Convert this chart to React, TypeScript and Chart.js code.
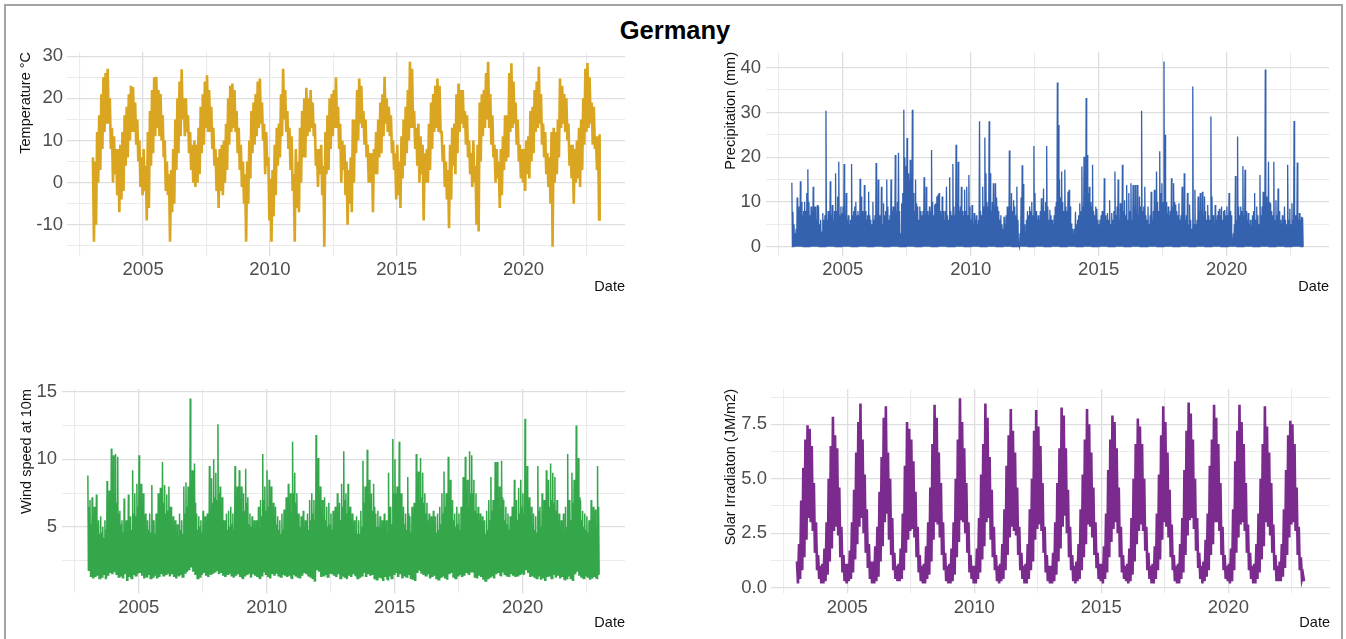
import React, { useEffect, useRef } from "react";
import { Chart, registerables } from "chart.js";

Chart.register(...registerables);

const FONT = "'Liberation Sans', Arial, Helvetica, sans-serif";
const START_YEAR = 2003;

// ---------- axes ----------
const yearTicks = [2002.5, 2005, 2007.5, 2010, 2012.5, 2015, 2017.5, 2020, 2022.5];
const yearLabels = ["", "2005", "", "2010", "", "2015", "", "2020", ""];

const tempTicks = [-15, -10, -5, 0, 5, 10, 15, 20, 25, 30];
const tempTickLabels = ["", "-10", "", "0", "", "10", "", "20", "", "30"];
const precipTicks = [0, 5, 10, 15, 20, 25, 30, 35, 40];
const precipTickLabels = ["0", "", "10", "", "20", "", "30", "", "40"];
const windTicks = [2.5, 5, 7.5, 10, 12.5, 15];
const windTickLabels = ["", "5", "", "10", "", "15"];
const solarTicks = [0, 1.25, 2.5, 3.75, 5, 6.25, 7.5, 8.75];
const solarTickLabels = ["0.0", "", "2.5", "", "5.0", "", "7.5", ""];

// ---------- temperature (monthly highs / lows, °C), 2003..2022 ----------
const tempHigh = [
  6, 5, 12, 16, 21, 25, 26, 27, 20, 13, 11, 8,
  8, 9, 12, 16, 18, 21, 23, 22.7, 19, 15, 10, 6,
  8, 4, 12, 17, 22, 25, 25.1, 22, 21, 16, 10, 5,
  2, 3, 8, 15, 20, 24, 26.9, 20, 20, 16, 12, 9,
  10, 9, 13, 18, 21, 24, 25.5, 22, 18, 13, 8, 6,
  8, 9, 10, 14, 20, 23, 23.5, 22, 17, 13, 9, 5,
  2, 5, 10, 17, 19, 21, 24, 24.7, 19, 14, 12, 6,
  1, 3, 9, 13, 14, 21, 27, 22, 17, 13, 11, 2,
  8, 5, 13, 17, 20, 22.5, 20, 22, 19, 14, 8, 8,
  9, 4, 12, 16, 20, 21, 22, 25, 18, 14, 10, 9,
  5, 3, 6, 15, 15, 22, 24.7, 23, 17, 15, 9, 7,
  7, 8, 12, 15, 19, 21, 25.1, 20, 18, 16, 10, 7,
  9, 5, 11, 15, 18, 22, 28.7, 27, 17, 13, 14, 11,
  9, 7, 8, 14, 19, 21, 23, 24.7, 23, 12, 9, 5,
  3, 9, 13, 14, 21, 23.5, 22, 22, 17, 16, 10, 7,
  10, 4, 9, 19, 21, 22, 26, 28.7, 21, 16, 9, 8,
  5, 8, 11, 16, 16, 26, 28.3, 24, 19, 15, 9, 8,
  8, 10, 11, 17, 18, 22, 24, 27.5, 21, 14, 12, 7,
  6, 12, 13, 12, 15, 24.7, 23, 21, 20, 14, 9, 9,
  8, 10, 13, 15, 20, 27, 28.4, 25, 19, 18, 11, 11,
];
const tempLow = [
  -14, -10, 0, 3, 8, 12, 14, 14, 8, 0, 2, -3,
  -7, -4, -2, 4, 6, 10, 12, 12, 9, 5, -1, -3,
  -2, -9, -6, 4, 7, 11, 13, 11, 10, 6, -2, -3,
  -14, -7, -5, 3, 7, 11, 15, 11, 12, 7, 3, 0,
  -1, 0, 2, 7, 9, 13, 12, 12, 8, 4, -2, -6,
  -2, -3, 0, 3, 9, 12, 13, 12, 7, 3, -1, -5,
  -14, -5, 1, 7, 9, 11, 13, 14, 10, 2, 4, -9,
  -14, -8, -3, 4, 6, 11, 15, 12, 8, 3, -2, -14,
  -6, -7, 0, 6, 6, 11, 12, 13, 11, 4, -1, 2,
  -3, -15.2, 2, 3, 8, 11, 13, 13, 8, 0, 3, -3,
  -10, -5, -7, 0, 7, 10, 14, 13, 9, 6, 0, 0,
  -7, 2, 2, 6, 7, 11, 14, 12, 11, 7, 3, -4,
  -3, -6, 1, 4, 7, 10, 13, 13, 8, 4, 0, 2,
  -9, 0, 0, 3, 8, 12, 13, 12, 12, 5, -1, -4,
  -10.8, -4, 4, 2, 7, 12, 14, 13, 9, 6, 2, -1,
  0, -10, -11.6, 5, 11, 13, 15, 13, 9, 6, 0, 1,
  -6, -3, 3, 5, 6, 12, 13, 14, 9, 5, 1, 0,
  -2, 2, 1, 5, 7, 12, 13, 14, 9, 6, 2, -1,
  -5, -15.2, 0, 2, 6, 13, 14, 12, 10, 4, 1, -5,
  0, 1, -1, 3, 9, 12, 13, 14, 9, 8, 3, -8.7,
];
const tempLast = [11.5];

// ---------- precipitation (half-monthly daily maxima, mm), 2003..2022 ----------
const precipPeak = [
  14.3, 7.8, 5, 3, 4, 11, 9, 8, 14.6, 10, 7, 8, 10, 8, 12, 17.3, 10, 7, 9, 8, 13.4, 9, 9, 6,
  9.3, 9, 5, 6, 3.4, 7.5, 6, 7, 30.4, 6, 8, 6, 14.6, 7, 9.3, 6, 8, 16.4, 8, 11.2, 19, 7, 9, 7.5,
  9, 18.5, 7, 12, 6, 7, 5, 6, 18.5, 7, 8, 9, 10, 7, 8, 7, 15.2, 11.2, 8, 7, 13.8, 8, 6, 7,
  12.3, 7, 6, 5, 10, 6, 7, 18.7, 8, 15, 7, 6, 13.4, 5, 9.7, 7, 8, 15, 9, 6, 7, 15, 8, 9,
  9, 20.5, 8, 10, 21, 8, 3, 9.7, 12, 30.6, 20, 18, 24.3, 16.4, 15, 19.4, 14, 30.6, 12, 8, 15, 9.7, 9, 6,
  9, 8, 7, 8, 15.5, 7, 13.4, 8, 7, 9, 8, 21.6, 10, 7, 9.4, 9.7, 11.2, 11.6, 12, 8, 7, 11.2, 8, 6,
  8, 13.4, 7, 6, 15.5, 8, 7, 18.5, 9, 7, 22.8, 10, 19, 8, 9, 13.4, 8, 7, 12.7, 8, 13.4, 7, 16, 9,
  6, 9.3, 5, 7.5, 6, 7, 5, 6, 28, 8, 7, 13.4, 9, 24.4, 16.4, 10, 9, 28, 16.4, 8, 10, 14.2, 9, 14.2,
  11, 9, 8, 6, 7, 5, 4, 6.7, 5, 7, 9, 8, 21.5, 9, 12, 8, 10.4, 9, 7, 13.4, 6, 0.5, 3, 11,
  18.2, 14, 5, 3, 6, 8, 7, 9, 8, 10, 7, 22.5, 12, 8, 6, 7, 6, 8, 10.8, 9, 13, 8, 10, 22.5,
  9, 6, 8.2, 7, 6, 5, 7, 9, 10, 36.7, 27.2, 15, 11, 16.8, 10, 8, 17.2, 9, 8, 12.3, 12.7, 9, 5.2, 4,
  3, 4, 7.8, 5, 6, 7, 9.7, 8, 17.9, 9, 20.1, 10, 33.2, 20.5, 12, 13.4, 10, 9, 18.3, 8, 7, 9, 8.5, 6,
  5, 6, 7, 8, 6, 15.3, 7, 6, 7.5, 6, 10.4, 5, 7.5, 6, 8, 16.8, 7, 9, 15, 6, 9.7, 7, 18.3, 8,
  10.4, 7, 13.8, 6, 12, 8, 14.2, 6, 13.8, 9, 13.8, 8, 13.8, 7, 11.2, 9, 30.4, 8, 9, 13.4, 7, 6, 9, 5,
  7, 12.3, 6, 8, 12.7, 9, 16.8, 10, 8, 21.3, 12, 14.2, 10, 41.4, 25, 10, 7.5, 9, 7, 8, 15.3, 9, 14.2, 10,
  9.4, 8, 7, 9.7, 6, 7, 13.4, 8, 16.4, 6, 7, 12, 5, 9.4, 6, 4, 35.8, 5, 12.7, 5, 6, 11.2, 8, 12,
  8, 12.3, 7, 11.2, 8, 6, 9.3, 7, 6, 29.1, 11.2, 7, 5, 9.3, 6, 7, 8, 8.5, 7, 9, 6, 8, 8.2, 7,
  9, 7, 12, 8, 7, 1.9, 3, 5, 15.8, 6, 24.6, 9, 7, 9, 8, 18, 7, 17.2, 8, 6, 7.5, 5, 6, 4.5,
  7, 8, 12, 6, 9, 7, 5, 16, 7, 9, 12.3, 10, 39.6, 11.2, 9, 19, 10, 9.7, 8, 7, 19, 6, 10.4, 7,
  13, 8, 6, 5.2, 7, 6, 9, 6, 5, 18.3, 6, 8.5, 5, 9.7, 6, 28.1, 7, 5, 18.8, 6, 7.5, 6, 6.7, 6.5,
];

// ---------- wind speed at 10 m (monthly max / typical upper / min), 2003..2022 ----------
const windHigh = [
  8.8, 7.0, 7.2, 6.5, 7.4, 5.5, 5.8, 5.0, 5.5, 8.4, 7.7, 10.8,
  10.3, 10.4, 10.2, 6.2, 5.5, 7.1, 5.5, 7.4, 5.8, 9.2, 7.5, 8.2,
  10.3, 8.2, 7.5, 6.0, 5.5, 6.0, 8.1, 5.5, 6.0, 7.5, 7.9, 9.8,
  8.1, 7.4, 8.0, 6.5, 5.8, 5.5, 5.2, 6.0, 5.5, 8.0, 8.3, 8.0,
  14.5, 9.2, 9.7, 6.0, 5.8, 5.5, 6.2, 5.8, 6.0, 9.5, 8.6, 10.0,
  9.0, 12.6, 8.0, 7.2, 5.5, 6.0, 6.2, 6.5, 6.0, 9.5, 8.0, 9.2,
  8.0, 7.5, 9.3, 7.2, 6.0, 5.8, 5.5, 5.5, 6.5, 7.0, 10.4, 8.0,
  9.2, 8.5, 8.0, 6.8, 6.5, 5.8, 5.5, 6.0, 6.3, 7.2, 8.2, 7.5,
  11.3, 9.0, 7.5, 6.0, 5.8, 6.2, 5.5, 6.0, 7.0, 7.5, 7.0, 11.8,
  10.1, 8.0, 7.0, 7.2, 6.5, 6.8, 6.0, 6.2, 6.5, 7.5, 6.8, 8.2,
  10.6, 7.5, 8.2, 6.5, 6.0, 5.5, 5.8, 5.5, 6.2, 9.9, 8.0, 10.7,
  8.5, 7.5, 8.2, 6.0, 6.2, 5.8, 5.5, 6.0, 5.5, 9.0, 6.5, 11.5,
  10.0, 8.0, 11.3, 7.5, 6.5, 6.0, 8.7, 5.8, 6.5, 6.8, 10.4, 9.1,
  10.1, 9.0, 7.5, 6.8, 6.0, 5.8, 6.2, 5.8, 6.0, 6.5, 7.5, 9.1,
  7.5, 10.2, 8.5, 7.0, 6.0, 6.5, 6.0, 6.5, 8.7, 10.2, 8.5, 10.6,
  10.3, 8.5, 7.5, 6.5, 6.0, 5.8, 5.5, 6.2, 7.0, 8.7, 7.0, 9.8,
  9.8, 8.0, 9.9, 7.0, 6.5, 6.0, 5.8, 6.5, 8.5, 7.0, 7.9, 8.5,
  7.5, 13.0, 9.5, 7.2, 6.5, 6.0, 5.8, 9.5, 6.5, 7.5, 7.0, 9.2,
  8.5, 9.7, 9.0, 8.7, 7.0, 6.0, 5.5, 6.0, 6.5, 10.4, 7.0, 9.0,
  8.5, 12.5, 10.1, 7.0, 6.2, 6.0, 5.8, 5.5, 7.0, 6.5, 6.3, 9.5,
];
const windMid = [
  6.5, 5.2, 5.8, 5.0, 4.8, 4.5, 4.6, 4.2, 4.8, 6.2, 6.0, 7.0,
  7.5, 6.8, 6.0, 5.2, 4.6, 5.0, 4.5, 5.2, 4.8, 6.0, 5.8, 6.5,
  7.0, 6.5, 5.8, 5.0, 4.8, 4.6, 5.5, 4.5, 4.8, 5.5, 6.0, 6.8,
  6.0, 6.2, 6.5, 5.2, 4.8, 4.5, 4.3, 4.8, 4.5, 6.0, 6.5, 6.8,
  8.5, 7.0, 6.8, 4.8, 5.0, 4.6, 5.2, 4.8, 5.0, 6.5, 6.8, 7.2,
  7.0, 7.5, 6.5, 5.5, 4.6, 4.8, 5.0, 5.2, 4.8, 6.8, 6.0, 6.5,
  6.0, 6.2, 6.8, 5.2, 5.0, 4.8, 4.5, 4.6, 5.0, 5.8, 7.0, 6.2,
  6.5, 6.5, 6.2, 5.2, 5.2, 4.8, 4.5, 4.8, 5.0, 5.8, 6.2, 6.0,
  7.5, 6.8, 6.0, 5.0, 4.8, 5.0, 4.6, 4.8, 5.5, 6.0, 5.5, 8.0,
  7.5, 6.0, 5.8, 5.5, 5.0, 5.2, 4.8, 4.8, 5.2, 6.0, 5.5, 6.5,
  7.0, 6.0, 6.2, 5.2, 4.8, 4.6, 4.5, 4.5, 5.0, 6.8, 6.2, 7.5,
  6.5, 6.2, 6.5, 5.0, 5.0, 4.6, 4.5, 4.8, 4.6, 6.5, 5.2, 7.5,
  7.5, 6.5, 7.5, 5.8, 5.2, 4.8, 6.0, 4.6, 5.0, 5.5, 7.2, 7.0,
  7.2, 6.8, 6.0, 5.5, 4.8, 4.6, 5.0, 4.6, 4.8, 5.2, 6.0, 6.5,
  6.0, 7.2, 6.5, 5.5, 5.0, 5.2, 4.8, 5.0, 6.2, 7.2, 6.5, 7.5,
  7.5, 6.2, 6.0, 5.2, 4.8, 4.6, 4.5, 4.8, 5.5, 6.2, 5.5, 7.0,
  7.0, 6.5, 7.2, 5.5, 5.2, 4.8, 4.6, 5.0, 6.0, 5.5, 6.0, 6.5,
  6.0, 8.5, 7.0, 5.5, 5.2, 4.8, 4.6, 6.2, 5.0, 5.8, 5.5, 6.8,
  6.5, 7.0, 6.8, 6.2, 5.5, 4.8, 4.5, 4.8, 5.0, 7.0, 5.5, 6.8,
  6.5, 8.5, 7.2, 5.5, 5.0, 4.8, 4.6, 4.5, 5.5, 5.2, 5.0, 6.5,
];
const windLow = [
  1.8, 1.3, 1.2, 1.3, 1.4, 1.2, 1.3, 1.5, 1.2, 1.4, 1.6, 1.5,
  1.7, 1.5, 1.3, 1.4, 1.2, 1.5, 1.0, 1.3, 1.2, 1.5, 1.4, 1.6,
  1.6, 1.4, 1.2, 1.3, 1.5, 1.2, 1.3, 1.4, 1.2, 1.3, 1.5, 1.4,
  1.5, 1.6, 1.4, 1.5, 1.3, 1.2, 1.4, 1.5, 1.3, 1.6, 1.7, 1.8,
  2.0, 1.7, 1.5, 1.2, 1.3, 1.5, 1.6, 1.4, 1.3, 1.5, 1.6, 1.7,
  1.8, 1.5, 1.6, 1.4, 1.3, 1.5, 1.6, 1.4, 1.3, 1.4, 1.5, 1.3,
  1.2, 1.4, 1.5, 1.6, 1.3, 1.5, 1.4, 1.3, 1.2, 1.4, 1.7, 1.5,
  1.3, 1.2, 1.5, 1.4, 1.6, 1.4, 1.3, 1.5, 1.4, 1.3, 1.4, 1.2,
  1.5, 1.4, 1.3, 1.2, 1.4, 1.6, 1.5, 1.4, 1.3, 1.2, 1.0, 1.8,
  1.7, 1.3, 1.4, 1.5, 1.3, 1.6, 1.5, 1.4, 1.3, 1.5, 1.2, 1.4,
  1.3, 1.2, 1.4, 1.3, 1.5, 1.4, 1.2, 1.3, 1.4, 1.6, 1.3, 1.5,
  1.4, 1.5, 1.2, 1.1, 1.3, 1.2, 1.0, 1.3, 1.1, 1.4, 1.2, 1.5,
  1.6, 1.3, 1.5, 1.2, 1.4, 1.3, 1.5, 1.2, 1.1, 1.0, 1.6, 1.8,
  1.6, 1.5, 1.4, 1.5, 1.2, 1.3, 1.4, 1.2, 1.1, 1.3, 1.4, 1.2,
  1.1, 1.5, 1.6, 1.3, 1.2, 1.4, 1.5, 1.3, 1.4, 1.6, 1.5, 1.7,
  1.7, 1.3, 1.2, 1.4, 1.3, 1.1, 1.0, 1.2, 1.3, 1.4, 1.2, 1.5,
  1.6, 1.4, 1.7, 1.5, 1.4, 1.3, 1.5, 1.4, 1.3, 1.4, 1.5, 1.6,
  1.5, 1.8, 1.6, 1.3, 1.4, 1.3, 1.2, 1.4, 1.1, 1.2, 1.0, 1.3,
  1.4, 1.2, 1.5, 1.3, 1.4, 1.2, 1.3, 1.1, 1.2, 1.4, 1.2, 1.0,
  1.5, 1.7, 1.4, 1.3, 1.2, 1.4, 1.3, 1.1, 1.2, 1.3, 1.2, 1.5,
];

// ---------- solar irradiation (monthly highs / lows), 2003..2022 ----------
const solarHigh = [
  1.2, 2.0, 4.0, 5.5, 6.8, 7.46, 7.3, 6.5, 4.8, 3.0, 1.5, 1.0,
  1.1, 1.8, 3.0, 5.0, 6.5, 7.85, 7.0, 6.4, 4.6, 2.8, 1.5, 1.1,
  1.1, 1.7, 3.0, 4.5, 6.2, 7.6, 8.45, 6.8, 5.2, 3.6, 2.0, 1.2,
  1.2, 1.9, 2.8, 4.4, 6.0, 7.8, 8.33, 6.2, 5.0, 3.2, 1.6, 1.0,
  1.1, 1.8, 3.4, 5.6, 7.6, 7.3, 6.8, 5.8, 4.4, 2.8, 1.5, 1.0,
  1.1, 1.9, 3.0, 4.6, 6.6, 8.4, 7.8, 6.2, 4.8, 3.0, 1.6, 1.0,
  1.1, 1.8, 3.0, 5.0, 6.8, 8.7, 7.6, 6.4, 4.8, 3.0, 1.5, 1.0,
  1.0, 1.8, 3.2, 5.2, 6.6, 8.45, 7.8, 6.0, 4.5, 2.8, 1.5, 1.0,
  1.1, 2.0, 3.6, 5.6, 7.0, 8.2, 7.2, 6.2, 4.6, 2.8, 1.6, 1.0,
  1.1, 2.0, 3.6, 5.0, 7.2, 8.15, 7.4, 6.5, 4.8, 2.8, 1.5, 1.0,
  1.0, 1.6, 3.0, 4.8, 6.4, 8.27, 7.9, 6.4, 4.5, 2.8, 1.5, 1.0,
  1.2, 2.0, 3.6, 5.2, 6.8, 8.2, 7.5, 6.2, 4.6, 3.0, 1.6, 1.1,
  1.1, 1.9, 3.4, 5.4, 6.8, 7.9, 7.6, 6.4, 4.6, 2.8, 1.5, 1.0,
  1.1, 1.8, 3.2, 5.0, 6.6, 7.77, 7.4, 6.6, 5.0, 2.8, 1.6, 1.0,
  1.1, 1.9, 3.4, 5.2, 7.0, 8.33, 7.6, 6.2, 4.5, 2.9, 1.5, 1.0,
  1.1, 2.0, 3.2, 5.4, 7.2, 8.5, 8.0, 6.8, 5.0, 3.2, 1.6, 1.0,
  1.2, 2.2, 3.4, 5.6, 6.8, 8.4, 7.8, 6.6, 4.8, 2.8, 1.5, 1.0,
  1.1, 1.8, 3.6, 5.8, 7.2, 8.4, 7.6, 6.6, 4.8, 2.9, 1.6, 1.0,
  1.1, 2.0, 3.4, 5.0, 6.6, 8.33, 7.4, 6.2, 4.8, 2.9, 1.5, 1.0,
  1.2, 2.0, 3.6, 5.4, 7.0, 7.66, 7.5, 6.6, 4.6, 2.8, 1.4, 0.6,
];
const solarLow = [
  0.2, 0.4, 0.8, 1.4, 2.2, 3.2, 3.0, 2.6, 1.6, 0.8, 0.4, 0.2,
  0.2, 0.3, 0.6, 1.2, 1.8, 2.6, 2.8, 2.4, 1.4, 0.7, 0.3, 0.2,
  0.3, 0.4, 0.7, 1.3, 2.0, 2.8, 3.2, 2.5, 1.6, 0.9, 0.4, 0.2,
  0.2, 0.3, 0.5, 1.2, 1.9, 3.0, 3.4, 2.2, 1.5, 0.8, 0.4, 0.3,
  0.3, 0.4, 0.8, 1.6, 2.2, 2.6, 2.7, 2.3, 1.4, 0.7, 0.3, 0.2,
  0.2, 0.4, 0.6, 1.2, 2.2, 3.0, 2.9, 2.3, 1.5, 0.8, 0.3, 0.2,
  0.2, 0.3, 0.6, 1.4, 2.1, 3.1, 3.0, 2.5, 1.6, 0.7, 0.4, 0.2,
  0.2, 0.4, 0.7, 1.3, 1.9, 3.0, 3.2, 2.2, 1.4, 0.8, 0.3, 0.2,
  0.3, 0.4, 0.8, 1.5, 2.3, 2.8, 2.6, 2.4, 1.5, 0.8, 0.4, 0.2,
  0.2, 0.4, 0.8, 1.2, 2.2, 2.7, 2.9, 2.6, 1.6, 0.7, 0.3, 0.2,
  0.2, 0.3, 0.6, 1.2, 1.8, 2.8, 3.3, 2.5, 1.4, 0.8, 0.3, 0.2,
  0.3, 0.4, 0.8, 1.4, 2.0, 2.9, 2.8, 2.3, 1.5, 0.9, 0.4, 0.3,
  0.2, 0.4, 0.7, 1.4, 2.1, 2.7, 3.0, 2.5, 1.4, 0.7, 0.4, 0.3,
  0.2, 0.3, 0.6, 1.2, 2.0, 2.6, 2.9, 2.6, 1.7, 0.8, 0.4, 0.2,
  0.2, 0.4, 0.8, 1.3, 2.2, 3.0, 2.8, 2.3, 1.4, 0.8, 0.3, 0.2,
  0.2, 0.4, 0.7, 1.5, 2.4, 3.1, 3.2, 2.7, 1.7, 0.9, 0.4, 0.2,
  0.3, 0.5, 0.8, 1.5, 2.0, 3.0, 3.0, 2.6, 1.5, 0.8, 0.4, 0.3,
  0.2, 0.3, 0.8, 1.6, 2.3, 2.9, 3.0, 2.6, 1.6, 0.8, 0.4, 0.2,
  0.2, 0.4, 0.7, 1.3, 1.9, 3.0, 2.8, 2.4, 1.6, 0.8, 0.3, 0.3,
  0.3, 0.5, 0.9, 1.5, 2.3, 2.9, 3.0, 2.6, 1.5, 0.8, 0.4, 0.3,
];

// ---------- series builders (x = decimal date) ----------
type Pt = { x: number; y: number };

function monthlyBand(high: number[], low: number[], tail: number[] = []): Pt[] {
  const pts: Pt[] = [];
  high.forEach((h, i) => {
    const t = START_YEAR + i / 12;
    pts.push({ x: t + 0.25 / 12, y: h });
    pts.push({ x: t + 0.75 / 12, y: low[i] });
  });
  tail.forEach((v) => pts.push({ x: START_YEAR + high.length / 12, y: v }));
  return pts;
}

function dailySpikes(peaks: number[]): Pt[] {
  const pts: Pt[] = [];
  peaks.forEach((p, i) => {
    const t = START_YEAR + i / 24;
    pts.push({ x: t + 0.25 / 24, y: p });
    pts.push({ x: t + 0.75 / 24, y: 0 });
  });
  return pts;
}

function windBand(hi: number[], mid: number[], lo: number[]): Pt[] {
  const pts: Pt[] = [];
  hi.forEach((h, i) => {
    const t = START_YEAR + i / 12;
    pts.push({ x: t + 0.125 / 12, y: h });
    pts.push({ x: t + 0.375 / 12, y: lo[i] });
    pts.push({ x: t + 0.625 / 12, y: mid[i] });
    pts.push({ x: t + 0.875 / 12, y: lo[i] });
  });
  return pts;
}

type PanelProps = {
  left: number;
  top: number;
  width: number;
  height: number;
  points: Pt[];
  color: string;
  lineWidth: number;
  yTitle: string;
  yMin: number;
  yMax: number;
  yTicks: number[];
  yLabels: string[];
  yAxisWidth: number;
  yTitlePad: number;
  yTickPad: number;
  xTickPad: number;
  xTitlePad: number;
};

const MAJOR_GRID = "#dedede";
const MINOR_GRID = "#ebebeb";

function Panel(p: PanelProps) {
  const ref = useRef<HTMLCanvasElement | null>(null);
  useEffect(() => {
    if (!ref.current) return;
    const chart = new Chart(ref.current, {
      type: "line",
      data: {
        datasets: [
          {
            data: p.points,
            borderColor: p.color,
            backgroundColor: p.color,
            borderWidth: p.lineWidth,
            borderJoinStyle: "miter",
            pointRadius: 0,
            tension: 0,
            fill: false,
          },
        ],
      },
      options: {
        animation: false,
        responsive: false,
        maintainAspectRatio: false,
        events: [],
        parsing: false,
        normalized: true,
        layout: { padding: { left: 0, right: 6, top: 20, bottom: 0 } },
        plugins: {
          legend: { display: false },
          tooltip: { enabled: false },
          title: { display: false },
        },
        scales: {
          x: {
            type: "linear",
            position: "bottom",
            min: 2002,
            max: 2024,
            afterBuildTicks: (s: any) => {
              s.ticks = yearTicks.map((v) => ({ value: v }));
            },
            afterFit: (s: any) => {
              s.height = 40;
            },
            ticks: {
              autoSkip: false,
              maxRotation: 0,
              minRotation: 0,
              padding: p.xTickPad,
              color: "#4d4d4d",
              font: { family: FONT, size: 18.5 },
              callback: (_v: any, i: number) => yearLabels[i],
            },
            grid: {
              drawTicks: false,
              color: (c: any) => (yearLabels[c.index] ? MAJOR_GRID : MINOR_GRID),
              lineWidth: (c: any) => (yearLabels[c.index] ? 1.3 : 1.1),
            },
            border: { display: false },
            title: {
              display: true,
              text: "Date",
              align: "end",
              color: "#111",
              font: { family: FONT, size: 14.5 },
              padding: { top: 0, bottom: p.xTitlePad },
            },
          },
          y: {
            type: "linear",
            position: "left",
            min: p.yMin,
            max: p.yMax,
            afterBuildTicks: (s: any) => {
              s.ticks = p.yTicks.map((v) => ({ value: v }));
            },
            afterFit: (s: any) => {
              s.width = p.yAxisWidth;
            },
            ticks: {
              autoSkip: false,
              padding: p.yTickPad,
              color: "#4d4d4d",
              font: { family: FONT, size: 18.5 },
              callback: (_v: any, i: number) => p.yLabels[i],
            },
            grid: {
              drawTicks: false,
              color: (c: any) => (p.yLabels[c.index] ? MAJOR_GRID : MINOR_GRID),
              lineWidth: (c: any) => (p.yLabels[c.index] ? 1.3 : 1.1),
            },
            border: { display: false },
            title: {
              display: true,
              text: p.yTitle,
              align: "end",
              color: "#111",
              font: { family: FONT, size: 14.5 },
              padding: { top: p.yTitlePad, bottom: 0 },
            },
          },
        },
      } as any,
    });
    return () => chart.destroy();
  }, []);
  return (
    <canvas
      ref={ref}
      width={p.width}
      height={p.height}
      style={{
        position: "absolute",
        left: p.left,
        top: p.top,
        width: p.width,
        height: p.height,
      }}
    />
  );
}

export default function App() {
  const tempPts = monthlyBand(tempHigh, tempLow, tempLast);
  const precipPts = dailySpikes(precipPeak);
  const windPts = windBand(windHigh, windMid, windLow);
  const solarPts = monthlyBand(solarHigh, solarLow);

  return (
    <div
      style={{
        position: "absolute",
        left: 0,
        top: 0,
        width: 1346,
        height: 639,
        overflow: "hidden",
        background: "#ffffff",
      }}
    >
      <div
        style={{
          position: "absolute",
          left: 4,
          top: 4,
          width: 1339,
          height: 700,
          boxSizing: "border-box",
          border: "2px solid #a4a4a4",
        }}
      />
      <div
        style={{
          position: "absolute",
          left: 675,
          top: 17.7,
          transform: "translateX(-50%)",
          fontFamily: FONT,
          fontWeight: "bold",
          fontSize: 25.5,
          lineHeight: 1,
          color: "#000",
          whiteSpace: "nowrap",
        }}
      >
        Germany
      </div>
      <Panel
        left={8}
        top={32}
        width={623}
        height={264}
        points={tempPts}
        color="#DAA520"
        lineWidth={2.6}
        yTitle="Temperature °C"
        yMin={-17.4}
        yMax={31}
        yTicks={tempTicks}
        yLabels={tempTickLabels}
        yAxisWidth={59}
        yTitlePad={9.3}
        yTickPad={4}
        xTickPad={3}
        xTitlePad={0.5}
      />
      <Panel
        left={700}
        top={32}
        width={635}
        height={264}
        points={precipPts}
        color="#3562AF"
        lineWidth={1.3}
        yTitle="Precipitation (mm)"
        yMin={-2.08}
        yMax={43.5}
        yTicks={precipTicks}
        yLabels={precipTickLabels}
        yAxisWidth={66}
        yTitlePad={21.8}
        yTickPad={5}
        xTickPad={3}
        xTitlePad={0.5}
      />
      <Panel
        left={8}
        top={369}
        width={623}
        height={264}
        points={windPts}
        color="#34A74B"
        lineWidth={1.5}
        yTitle="Wind speed at 10m"
        yMin={0.12}
        yMax={15.2}
        yTicks={windTicks}
        yLabels={windTickLabels}
        yAxisWidth={54}
        yTitlePad={10.3}
        yTickPad={5}
        xTickPad={3.5}
        xTitlePad={1}
      />
      <Panel
        left={700}
        top={369}
        width={636}
        height={264}
        points={solarPts}
        color="#7B2B8E"
        lineWidth={2.6}
        yTitle="Solar Irradiaton (JM/m2)"
        yMin={-0.243}
        yMax={9.12}
        yTicks={solarTicks}
        yLabels={solarTickLabels}
        yAxisWidth={71}
        yTitlePad={22.3}
        yTickPad={4}
        xTickPad={3.5}
        xTitlePad={1}
      />
    </div>
  );
}
